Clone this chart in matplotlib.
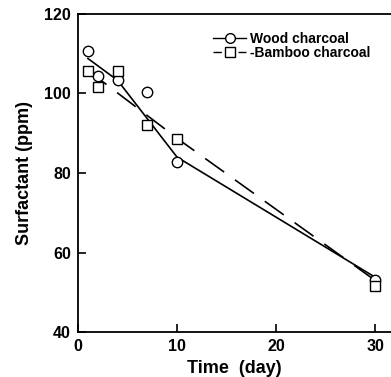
import matplotlib
matplotlib.use("Agg")
import matplotlib.pyplot as plt

plt.rcParams['font.family'] = ['Liberation Sans', 'DejaVu Sans']
plt.rcParams['font.weight'] = 'bold'

# measured points
days = [1, 2, 4, 7, 10, 30]
wood = [110.7, 104.4, 103.4, 100.4, 82.8, 53.0]
bamboo = [105.7, 101.6, 105.7, 92.0, 88.6, 51.6]

# trend lines (break points)
wood_fit_x = [1, 4, 10, 30]
wood_fit_y = [108.8, 103.3, 84.0, 53.8]
bamboo_fit_x = [1, 10.3, 30]
bamboo_fit_y = [105.8, 88.2, 53.0]

fig = plt.figure(figsize=(3.91, 3.77), dpi=100)
ax = fig.add_axes([0.1995, 0.119, 0.8005, 0.844])

ax.plot(wood_fit_x, wood_fit_y, color='black', lw=1.2)
ax.plot(bamboo_fit_x, bamboo_fit_y, color='black', lw=1.2, dashes=(14, 8))
ax.plot(days, wood, 'o', ms=7.5, mfc='white', mec='black', mew=1.0)
ax.plot(days, bamboo, 's', ms=7.5, mfc='white', mec='black', mew=1.0)

# legend handles
ax.plot([], [], color='black', lw=1.0, marker='o', ms=7, mfc='white',
        mec='black', label='Wood charcoal')
ax.plot([], [], color='black', lw=1.0, marker='s', ms=7, mfc='white',
        mec='black', dashes=(6, 3), label='-Bamboo charcoal')
handles, labels = ax.get_legend_handles_labels()
ax.legend(handles[-2:], labels[-2:], loc='upper left', bbox_to_anchor=(0.40, 0.975),
          frameon=False, fontsize=10, handlelength=2.4, handletextpad=0.3,
          labelspacing=0.05, borderpad=0.2)

ax.set_xlim(0, 31.6)
ax.set_ylim(40, 120)
ax.set_xticks([0, 10, 20, 30])
ax.set_yticks([40, 60, 80, 100, 120])
ax.tick_params(direction='in', length=6, width=1.2, labelsize=11.5, pad=5)
for lab in ax.get_xticklabels() + ax.get_yticklabels():
    lab.set_fontweight('bold')

ax.spines['right'].set_visible(False)
for s in ['left', 'bottom', 'top']:
    ax.spines[s].set_linewidth(1.3)

ax.set_xlabel('Time  (day)', fontsize=13, fontweight='bold', labelpad=4)
ax.set_ylabel('Surfactant (ppm)', fontsize=13, fontweight='bold', labelpad=8)

fig.savefig('out.png', dpi=100)
